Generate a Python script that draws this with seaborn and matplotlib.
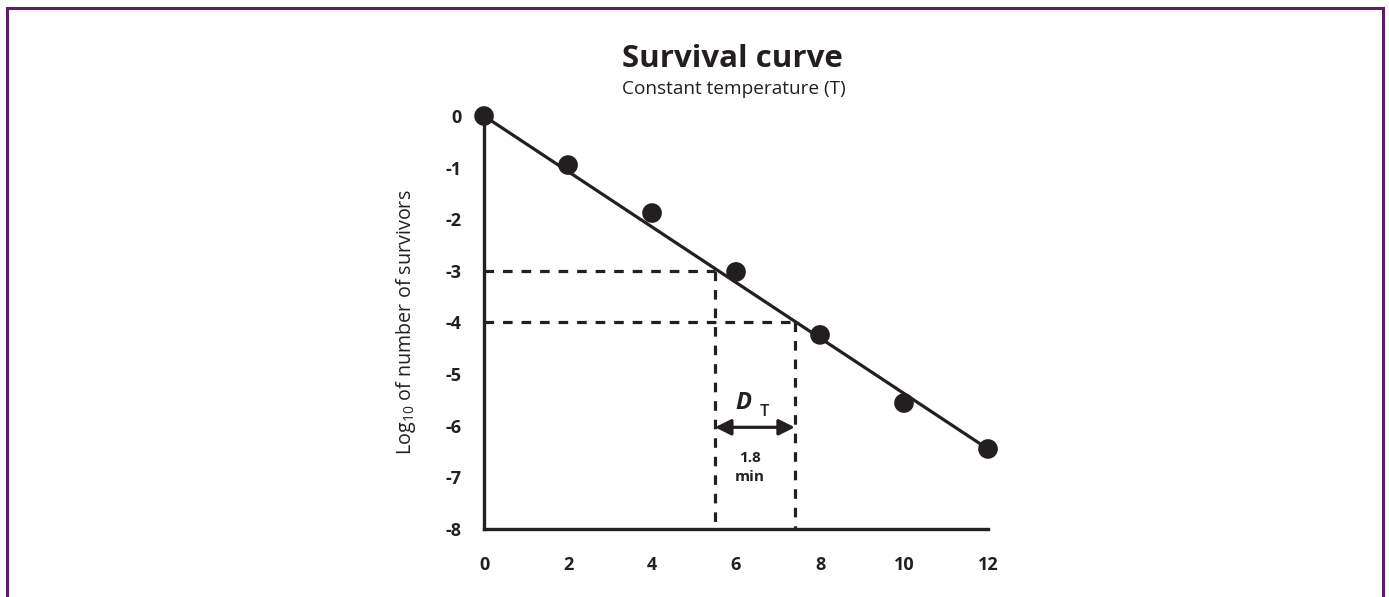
import numpy as np
import pandas as pd
import matplotlib
matplotlib.use("Agg")
import matplotlib.pyplot as plt
import seaborn as sns
from matplotlib.patches import Rectangle

# measured survivor counts (log10) vs heating time (min)
time_min = [0, 2, 4, 6, 8, 10, 12]
log_survivors = [0.0, -0.95, -1.88, -3.02, -4.24, -5.56, -6.45]

# fitted straight line (end points)
fit_time = [0, 12]
fit_log = [0.0, -6.45]

# D-value construction
d_levels = [-3, -4]
d_times = [5.5, 7.4]
d_label = "1.8\nmin"

x_ticks = [0, 2, 4, 6, 8, 10, 12]
y_ticks = [0, -1, -2, -3, -4, -5, -6, -7, -8]

ink = "#231f20"
purple = "#5b1f6c"

sns.set_style("white")
plt.rcParams["font.family"] = ["Open Sans", "DejaVu Sans"]
plt.rcParams["mathtext.fontset"] = "custom"
plt.rcParams["mathtext.rm"] = "Open Sans"

fig = plt.figure(figsize=(13.89, 5.97), dpi=100)
ax = fig.add_axes([0.3485, 0.1139, 0.3628, 0.6918])

pts = pd.DataFrame({"time": time_min, "logN": log_survivors})
fit = pd.DataFrame({"time": fit_time, "logN": fit_log})

sns.lineplot(data=fit, x="time", y="logN", ax=ax, color=ink, lw=2.3, zorder=3)
sns.scatterplot(data=pts, x="time", y="logN", ax=ax, color=ink, s=200,
                edgecolor="none", zorder=4, clip_on=False)

dash = (0, (3, 2.8))
for lvl, t in zip(d_levels, d_times):
    ax.plot([0, t], [lvl, lvl], color=ink, lw=2.3, linestyle=dash, zorder=2)
    ax.plot([t, t], [lvl, -8], color=ink, lw=2.3, linestyle=dash, zorder=2)

ax.annotate("", xy=(d_times[0], -6.03), xytext=(d_times[1], -6.03),
            arrowprops=dict(arrowstyle="<|-|>", lw=2.3, color=ink,
                            mutation_scale=24, shrinkA=0, shrinkB=0))
ax.text(6.17, -5.55, "D", fontsize=17, fontweight="bold", style="italic",
        color=ink, ha="center", va="center")
ax.text(6.68, -5.74, "T", fontsize=12, fontweight="semibold", color=ink,
        ha="center", va="center")
ax.text(6.33, -6.8, d_label, fontsize=11, fontweight="bold", color=ink,
        ha="center", va="center", linespacing=1.45)

ax.set_xlim(0, 12)
ax.set_ylim(-8, 0)
ax.set_xticks(x_ticks)
ax.set_yticks(y_ticks)
ax.set_xticklabels([str(v) for v in x_ticks])
ax.set_yticklabels([str(v) for v in y_ticks])
ax.tick_params(axis="both", direction="out", length=7.5, width=2.3, color=ink,
               labelsize=13, labelcolor=ink)
ax.tick_params(axis="x", pad=12)
ax.tick_params(axis="y", pad=9)
for lab in ax.get_xticklabels() + ax.get_yticklabels():
    lab.set_fontweight("bold")

sns.despine(ax=ax)
for side in ["left", "bottom"]:
    ax.spines[side].set_linewidth(2.4)
    ax.spines[side].set_color(ink)

ax.set_xlabel("")
ax.set_ylabel("Log$_{10}$ of number of survivors", fontsize=14.2, color=ink)
ax.yaxis.set_label_coords(-0.132, 0.5)

fig.text(0.527, 0.902, "Survival curve", fontsize=22.5, fontweight="bold",
         color=ink, ha="center", va="center")
fig.text(0.528, 0.851, "Constant temperature (T)", fontsize=13.7, color=ink,
         ha="center", va="center")

# purple frame, open at the bottom
fig.patches.append(Rectangle((6.5 / 1389, -0.05), (1383 - 6.5) / 1389,
                             1.05 - 7.5 / 597, transform=fig.transFigure,
                             fill=False, edgecolor=purple, lw=2.2))

fig.savefig("out.png", dpi=100)
